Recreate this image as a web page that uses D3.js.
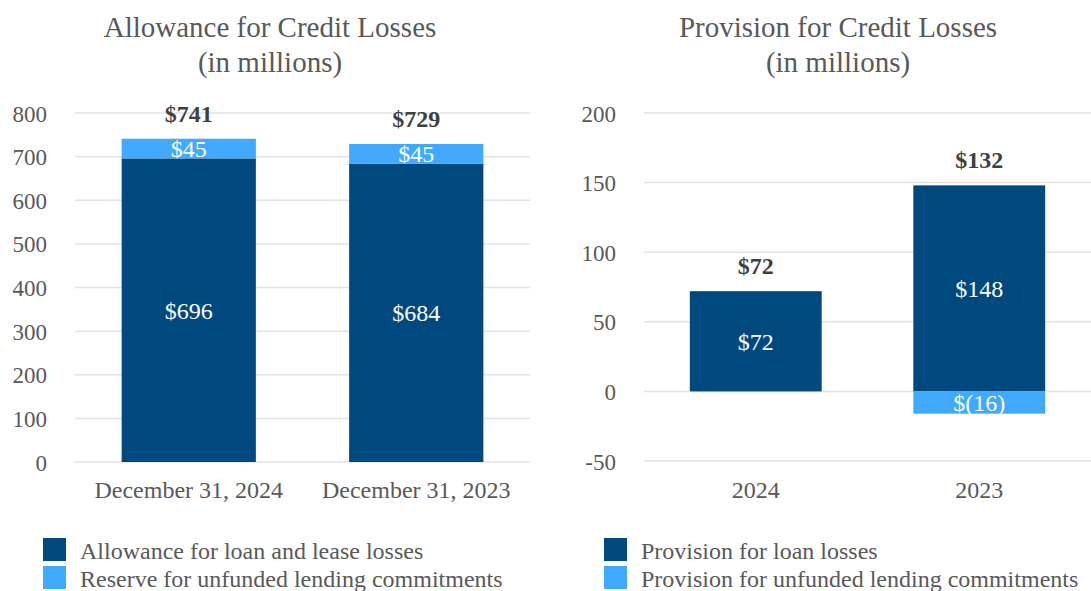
<!DOCTYPE html>
<html>
<head>
<meta charset="utf-8">
<script src="https://d3js.org/d3.v7.min.js"></script>
<style>
  body { margin: 0; background: #fff; }
  svg text { font-family: "Liberation Serif", "Times New Roman", serif; }
  .tick text { fill: #595959; font-size: 23px; }
  .xlab text { font-size: 24px; }
  .title { fill: #595959; font-size: 29px; text-anchor: middle; }
  .total { fill: #404040; font-size: 24px; font-weight: bold; text-anchor: middle; }
  .inner { fill: #fff; font-size: 24px; text-anchor: middle; }
  .legend text { fill: #595959; font-size: 24px; }
</style>
</head>
<body>
<svg id="chart" width="1091" height="591"></svg>
<script>
// Allowance chart data
var allowCats = ['December 31, 2024', 'December 31, 2023'];
var allowLoan = [696, 684];
var allowReserve = [45, 45];
var allowTotals = ['$741', '$729'];
var allowTicks = [0, 100, 200, 300, 400, 500, 600, 700, 800];

// Provision chart data
var provCats = ['2024', '2023'];
var provLoan = [72, 148];
var provUnfunded = [0, -16];
var provTotals = ['$72', '$132'];
var provTicks = [-50, 0, 50, 100, 150, 200];

var dark = '#00497f', light = '#42aafc', grid = '#e3e3e3';
var svg = d3.select('#chart');

function fmt(v) { return v < 0 ? '$(' + (-v) + ')' : '$' + v; }

function drawPanel(opt) {
  var x = d3.scaleBand().domain(opt.cats).range([opt.x0, opt.x1]).paddingInner(0.41).paddingOuter(0.205);
  var y = d3.scaleLinear().domain(opt.domain).range([opt.yBottom, opt.yTop]);
  var g = svg.append('g');

  // gridlines
  g.selectAll('.grid').data(opt.ticks).enter().append('line')
    .attr('x1', opt.x0).attr('x2', opt.x1)
    .attr('y1', d => y(d)).attr('y2', d => y(d))
    .attr('stroke', grid).attr('stroke-width', 1.5);

  // y axis labels
  var ya = g.append('g').attr('transform', 'translate(' + (opt.x0 - 28) + ',0)')
    .call(d3.axisLeft(y).tickValues(opt.ticks).tickSize(0).tickPadding(0).tickFormat(d => String(d)));
  ya.attr('font-family', null).attr('font-size', null);
  ya.select('.domain').remove();
  ya.selectAll('text').attr('dy', '0.35em');

  // x axis labels
  var xa = g.append('g').attr('class', 'xlab').attr('transform', 'translate(0,' + (opt.yLabel) + ')')
    .call(d3.axisBottom(x).tickSize(0).tickPadding(0));
  xa.attr('font-family', null).attr('font-size', null);
  xa.select('.domain').remove();
  xa.selectAll('text').attr('y', 0).attr('dy', '0.35em');

  // stacked bars
  opt.cats.forEach(function (c, i) {
    var a = opt.s1[i], b = opt.s2[i];
    var segs = [[0, a, opt.s1[i]]];
    if (b > 0) segs.push([a, a + b, b]);
    else if (b < 0) segs.push([b, 0, b]);
    segs.forEach(function (s, k) {
      g.append('rect')
        .attr('x', x(c)).attr('width', x.bandwidth())
        .attr('y', y(s[1])).attr('height', y(s[0]) - y(s[1]))
        .attr('fill', k === 0 ? dark : light);
      g.append('text').attr('class', 'inner')
        .attr('x', x(c) + x.bandwidth() / 2)
        .attr('y', (y(s[0]) + y(s[1])) / 2).attr('dy', '0.35em')
        .text(fmt(s[2]));
    });
    var top = a + Math.max(b, 0);
    g.append('text').attr('class', 'total')
      .attr('x', x(c) + x.bandwidth() / 2)
      .attr('y', y(top) - 17)
      .text(opt.totals[i]);
  });

  // title
  var cx = opt.titleX;
  g.append('text').attr('class', 'title').attr('x', cx).attr('y', 37).text(opt.title);
  g.append('text').attr('class', 'title').attr('x', cx).attr('y', 72).text('(in millions)');

  // legend
  var lg = g.append('g').attr('class', 'legend');
  opt.legend.forEach(function (t, k) {
    lg.append('rect').attr('x', opt.legX).attr('y', 538 + k * 28)
      .attr('width', 23).attr('height', 23).attr('fill', k === 0 ? dark : light);
    lg.append('text').attr('x', opt.legX + 37).attr('y', 559 + k * 28).text(t);
  });
}

drawPanel({
  cats: allowCats, s1: allowLoan, s2: allowReserve, totals: allowTotals,
  ticks: allowTicks, domain: [0, 800],
  x0: 75, x1: 530, yBottom: 462, yTop: 113, yLabel: 490,
  title: 'Allowance for Credit Losses', titleX: 270,
  legend: ['Allowance for loan and lease losses', 'Reserve for unfunded lending commitments'], legX: 43
});

drawPanel({
  cats: provCats, s1: provLoan, s2: provUnfunded, totals: provTotals,
  ticks: provTicks, domain: [-50, 200],
  x0: 644, x1: 1091, yBottom: 461, yTop: 113, yLabel: 490,
  title: 'Provision for Credit Losses', titleX: 838,
  legend: ['Provision for loan losses', 'Provision for unfunded lending commitments'], legX: 604
});
</script>
</body>
</html>
